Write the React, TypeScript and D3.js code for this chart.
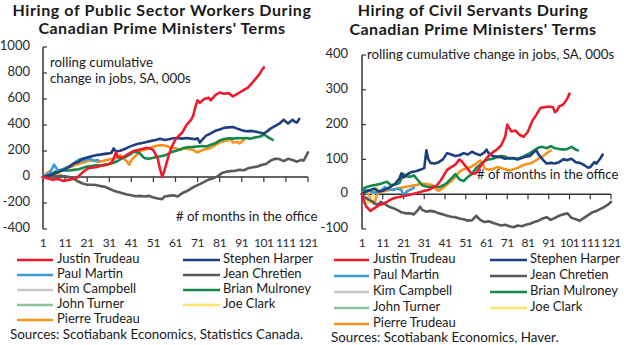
import React from 'react';
import * as d3 from 'd3';

type Pt = [number, number];

const MONTH_TICKS = [1, 11, 21, 31, 41, 51, 61, 71, 81, 91, 101, 111, 121];
const LEFT_Y_TICKS = [-400, -200, 0, 200, 400, 600, 800, 1000];
const RIGHT_Y_TICKS = [-100, 0, 100, 200, 300, 400];

const NAMES = ['Justin Trudeau', 'Stephen Harper', 'Paul Martin', 'Jean Chretien', 'Kim Campbell', 'Brian Mulroney', 'John Turner', 'Joe Clark', 'Pierre Trudeau'];
const COLORS = ['#ec1c2c', '#1e3f7f', '#3c9ad6', '#595959', '#c8c8c8', '#14874a', '#8cc59b', '#fde36b', '#f7931d'];

// ---- Public sector workers (left) ----
const PUB_JUSTIN: Pt[] = [[1,0],[3,-10],[5,-20],[8,-15],[10,-30],[13,-20],[16,-10],[18,20],[20,50],[22,70],[25,75],[27,85],[30,95],[32,110],[33,140],[34,190],[35,150],[37,150],[39,170],[42,200],[45,212],[48,225],[50,218],[51,205],[53,140],[54,60],[55,0],[56,50],[57,110],[58,170],[59,220],[61,290],[63,325],[64,340],[66,400],[68,440],[69,470],[70,540],[71,590],[72,570],[74,600],[76,610],[77,590],[79,630],[81,650],[83,640],[85,645],[87,620],[89,640],[90,650],[92,670],[94,690],[96,730],[98,770],[99,790],[100,820],[101,843]];
const PUB_HARPER: Pt[] = [[1,0],[3,10],[5,20],[7,30],[9,45],[11,60],[13,80],[15,105],[17,115],[19,140],[21,150],[23,160],[25,168],[27,172],[29,178],[31,182],[32,186],[33,220],[34,196],[36,202],[38,215],[40,232],[42,245],[44,255],[46,262],[48,270],[50,278],[52,285],[54,295],[56,285],[58,290],[60,298],[62,300],[64,295],[66,300],[68,295],[70,290],[71,298],[72,265],[73,285],[75,320],[77,335],[79,355],[81,365],[83,378],[85,382],[87,385],[89,372],[91,360],[93,352],[95,355],[97,350],[99,342],[101,335],[102,345],[104,372],[106,392],[108,410],[110,440],[111,425],[112,412],[114,440],[115,425],[116,418],[117,447]];
const PUB_MARTIN: Pt[] = [[1,0],[2,10],[4,30],[5,60],[6,95],[7,70],[8,45],[10,60],[12,75],[14,90],[16,120],[18,140],[19,125],[21,140],[23,135],[24,125],[26,130]];
const PUB_CHRETIEN: Pt[] = [[1,0],[3,5],[5,10],[7,5],[9,10],[11,5],[13,0],[15,-15],[17,-35],[19,-50],[21,-60],[23,-60],[25,-62],[27,-70],[29,-75],[31,-90],[33,-105],[35,-115],[37,-125],[39,-135],[41,-140],[43,-148],[45,-145],[47,-150],[49,-145],[51,-158],[53,-165],[55,-170],[56,-150],[58,-145],[60,-140],[62,-150],[64,-125],[66,-110],[68,-90],[70,-70],[72,-55],[74,-38],[76,-20],[78,-10],[80,5],[82,30],[84,40],[86,45],[88,48],[90,55],[92,52],[94,68],[96,75],[98,80],[100,92],[102,100],[104,125],[106,140],[108,138],[110,122],[112,140],[114,130],[116,118],[118,132],[119,125],[121,190]];
const PUB_CAMPBELL: Pt[] = [[1,0],[2,5],[3,15],[4,10],[5,15]];
const PUB_MULRONEY: Pt[] = [[1,0],[3,10],[5,25],[7,45],[9,55],[11,50],[13,50],[15,55],[17,60],[19,70],[21,80],[23,85],[25,90],[27,88],[29,95],[31,100],[33,110],[35,125],[37,145],[39,160],[41,180],[42,195],[44,190],[45,180],[46,160],[47,145],[49,140],[51,148],[53,155],[55,162],[57,172],[59,190],[61,200],[63,212],[65,225],[67,230],[69,232],[71,235],[73,238],[75,235],[77,248],[79,260],[81,280],[83,292],[85,298],[87,295],[89,300],[91,298],[93,300],[95,295],[97,305],[99,310],[101,325],[102,318],[103,305],[104,295],[105,285]];
const PUB_TURNER: Pt[] = [[1,0],[2,10],[3,5]];
const PUB_CLARK: Pt[] = [[1,0],[2,10],[3,20],[4,30],[5,25],[6,35],[7,20],[8,15],[9,25]];
const PUB_PIERRE: Pt[] = [[1,0],[2,20],[4,45],[5,30],[6,5],[7,10],[8,40],[10,60],[12,70],[14,80],[16,95],[18,105],[20,115],[22,130],[24,125],[26,118],[28,122],[30,130],[32,138],[34,148],[36,168],[37,150],[39,120],[40,95],[41,130],[43,165],[45,200],[47,210],[49,220],[51,232],[53,242],[55,245],[57,238],[59,225],[61,220],[63,210],[65,220],[67,215],[69,210],[70,195],[71,190],[73,205],[75,215],[77,225],[79,245],[81,265],[83,275],[85,285],[86,290],[87,265],[89,270],[90,258],[91,272],[92,285]];

// ---- Civil servants (right) ----
const CIV_JUSTIN: Pt[] = [[1,0],[2,-20],[3,-35],[5,-48],[7,-40],[9,-32],[11,-28],[13,-22],[15,-15],[17,-10],[19,-8],[21,-5],[23,-3],[25,0],[27,3],[29,6],[31,10],[33,12],[35,18],[37,25],[39,40],[41,60],[42,70],[44,78],[46,85],[48,100],[49,95],[51,80],[53,65],[54,58],[56,60],[58,80],[60,95],[62,110],[64,120],[66,128],[68,140],[70,165],[71,200],[72,190],[73,180],[75,183],[77,170],[79,165],[81,180],[83,210],[85,228],[87,248],[89,250],[91,252],[93,250],[94,236],[95,240],[96,252],[98,258],[100,275],[101,289]];
const CIV_HARPER: Pt[] = [[1,0],[3,8],[5,12],[7,16],[9,8],[11,10],[13,16],[15,22],[17,30],[19,45],[20,60],[21,48],[23,58],[25,64],[27,66],[29,70],[31,75],[32,126],[33,100],[34,90],[36,88],[38,92],[40,100],[42,118],[44,114],[46,110],[48,112],[50,118],[52,114],[54,122],[56,116],[58,112],[60,120],[61,128],[62,118],[64,110],[66,108],[68,106],[70,102],[72,104],[74,103],[76,100],[78,104],[80,108],[82,110],[84,122],[85,126],[86,115],[88,100],[90,88],[92,90],[94,88],[96,92],[98,100],[100,98],[102,102],[104,92],[106,90],[108,84],[110,76],[111,78],[113,92],[114,88],[115,96],[116,104],[117,114]];
const CIV_MARTIN: Pt[] = [[1,0],[2,8],[4,12],[6,6],[8,4],[10,10],[12,20],[14,14],[16,12],[18,16],[20,12],[21,-2],[22,4],[23,10],[24,12],[26,18]];
const CIV_CHRETIEN: Pt[] = [[1,0],[2,-8],[4,-15],[6,-22],[7,-27],[9,-30],[10,-22],[12,-28],[14,-36],[16,-40],[18,-45],[20,-52],[22,-55],[24,-55],[26,-58],[28,-45],[29,-36],[30,-45],[32,-50],[34,-48],[36,-50],[38,-55],[40,-58],[42,-62],[44,-65],[46,-66],[48,-70],[50,-72],[52,-76],[54,-75],[56,-62],[58,-74],[60,-80],[62,-78],[64,-82],[66,-86],[68,-90],[70,-88],[72,-92],[74,-95],[76,-90],[78,-92],[80,-88],[82,-85],[84,-80],[86,-76],[88,-70],[90,-66],[92,-74],[94,-68],[96,-62],[98,-58],[100,-55],[102,-68],[104,-72],[106,-76],[108,-68],[110,-60],[112,-52],[114,-48],[116,-42],[118,-36],[120,-28],[121,-22]];
const CIV_CAMPBELL: Pt[] = [[1,0],[2,-5],[3,-12],[4,-8],[5,-15]];
const CIV_MULRONEY: Pt[] = [[1,0],[2,18],[4,22],[6,25],[8,27],[10,30],[12,34],[13,36],[15,26],[17,28],[19,32],[20,45],[21,58],[22,52],[24,50],[26,54],[28,40],[30,26],[32,22],[34,20],[36,22],[38,20],[40,25],[42,33],[44,45],[46,58],[48,42],[50,38],[52,50],[54,58],[56,75],[58,85],[60,95],[62,100],[64,102],[66,106],[68,110],[70,108],[72,102],[74,104],[76,102],[78,106],[80,112],[82,118],[84,126],[86,134],[88,136],[90,132],[92,138],[94,132],[96,130],[98,128],[100,130],[102,136],[104,128],[105,126]];
const CIV_TURNER: Pt[] = [[1,0],[2,8],[3,4]];
const CIV_CLARK: Pt[] = [[1,0],[2,-5],[3,-15],[4,-25],[5,-22],[6,-10],[7,10],[8,22],[9,12]];
const CIV_PIERRE: Pt[] = [[1,0],[2,14],[3,10],[4,0],[5,-10],[6,-20],[7,-27],[8,-5],[9,5],[11,8],[13,11],[15,13],[17,15],[19,18],[21,20],[23,22],[25,24],[27,26],[29,30],[31,30],[33,28],[35,26],[36,22],[37,12],[38,10],[40,18],[42,28],[44,38],[46,50],[48,65],[50,72],[52,75],[54,80],[56,88],[58,97],[59,90],[60,75],[62,70],[64,72],[66,78],[68,75],[70,72],[72,68],[74,72],[76,75],[78,82],[80,86],[82,88],[84,94],[86,102],[88,108],[90,118],[91,122],[92,125]];

const PUB_SERIES = [PUB_JUSTIN, PUB_HARPER, PUB_MARTIN, PUB_CHRETIEN, PUB_CAMPBELL, PUB_MULRONEY, PUB_TURNER, PUB_CLARK, PUB_PIERRE];
const CIV_SERIES = [CIV_JUSTIN, CIV_HARPER, CIV_MARTIN, CIV_CHRETIEN, CIV_CAMPBELL, CIV_MULRONEY, CIV_TURNER, CIV_CLARK, CIV_PIERRE];

const FONT = 'Lato, "Open Sans", sans-serif';
const TXT = '#1a1a1a';

interface PanelCfg {
  series: Pt[][];
  yTicks: number[];
  yDomain: [number, number];
  xRange: [number, number];
  yRange: [number, number];
  yLabelX: number;
  title: string[];
  titleX: number;
  titleY: number[];
  titleSpacing: number[];
  note: { text: string; x: number; y: number }[];
  monthsNote: { x: number; y: number };
  legend: { x1: number; x2: number; tx: number; x1b: number; x2b: number; txb: number; rows: number[] };
  source: { text: string; x: number; y: number };
}

function Panel({ cfg }: { cfg: PanelCfg }) {
  const x = d3.scaleLinear().domain([1, 121]).range(cfg.xRange);
  const y = d3.scaleLinear().domain(cfg.yDomain).range(cfg.yRange);
  const line = d3.line<Pt>().x(d => x(d[0])).y(d => y(d[1]));
  const y0 = y(0);
  const order = [8, 7, 6, 5, 4, 3, 2, 1, 0];
  return (
    <g fontFamily={FONT} fill={TXT}>
      {cfg.title.map((t, i) => (
        <text key={t} x={cfg.titleX} y={cfg.titleY[i]} textAnchor="middle" fontSize={16} fontWeight={700} letterSpacing={cfg.titleSpacing[i]}>{t}</text>
      ))}
      {/* y axis */}
      <line x1={x(1)} x2={x(1)} y1={y(cfg.yDomain[1])} y2={y(cfg.yDomain[0])} stroke="#333" strokeWidth={1.5} />
      {cfg.yTicks.map(t => (
        <g key={t}>
          <line x1={x(1)} x2={x(1) + 4} y1={y(t)} y2={y(t)} stroke="#333" strokeWidth={1.2} />
          <text x={cfg.yLabelX} y={y(t)} textAnchor="end" dominantBaseline="middle" fontSize={13} fill="#2a2a2a">{t}</text>
        </g>
      ))}
      {/* x axis at zero */}
      <line x1={x(1)} x2={x(121)} y1={y0} y2={y0} stroke="#333" strokeWidth={1.5} />
      {MONTH_TICKS.map(m => (
        <g key={m}>
          <line x1={x(m)} x2={x(m)} y1={y0} y2={y0 + 5} stroke="#333" strokeWidth={1.2} />
          <text x={x(m)} y={244} textAnchor="middle" dominantBaseline="middle" fontSize={12} letterSpacing={-0.4} fill="#2a2a2a">{m}</text>
        </g>
      ))}
      {order.map(i => (
        <path key={i} d={line(cfg.series[i]) || ''} fill="none" stroke={COLORS[i]} strokeWidth={2.6} strokeLinejoin="round" strokeLinecap="round" />
      ))}
      {cfg.note.map(n => (
        <text key={n.text} x={n.x} y={n.y} dominantBaseline="middle" fontSize={13.3}>{n.text}</text>
      ))}
      <text x={cfg.monthsNote.x} y={cfg.monthsNote.y} dominantBaseline="middle" fontSize={13.2}>{'# of months in the office'}</text>
      {NAMES.map((n, i) => {
        const col = i % 2;
        const row = Math.floor(i / 2);
        const ly = cfg.legend.rows[row];
        const lx1 = col ? cfg.legend.x1b : cfg.legend.x1;
        const lx2 = col ? cfg.legend.x2b : cfg.legend.x2;
        const tx = col ? cfg.legend.txb : cfg.legend.tx;
        return (
          <g key={n}>
            <line x1={lx1} x2={lx2} y1={ly} y2={ly} stroke={COLORS[i]} strokeWidth={2.6} />
            <text x={tx} y={ly} dominantBaseline="middle" fontSize={13}>{n}</text>
          </g>
        );
      })}
      <text x={cfg.source.x} y={cfg.source.y} dominantBaseline="middle" fontSize={13.4}>{cfg.source.text}</text>
    </g>
  );
}

const LEFT: PanelCfg = {
  series: PUB_SERIES,
  yTicks: LEFT_Y_TICKS,
  yDomain: [-400, 1000],
  xRange: [43, 308],
  yRange: [229, 47],
  yLabelX: 30,
  title: ['Hiring of Public Sector Workers During', "Canadian Prime Ministers' Terms"],
  titleX: 162,
  titleY: [15.5, 34],
  titleSpacing: [0.6, 0.5],
  note: [{ text: 'rolling cumulative', x: 50, y: 64 }, { text: 'change in jobs, SA, 000s', x: 50, y: 80 }],
  monthsNote: { x: 176, y: 218 },
  legend: { x1: 17, x2: 53, tx: 57, x1b: 183, x2b: 220, txb: 223, rows: [260, 275, 290, 305, 320] },
  source: { text: 'Sources: Scotiabank Economics, Statistics Canada.', x: 10, y: 336 },
};

const RIGHT: PanelCfg = {
  series: CIV_SERIES,
  yTicks: RIGHT_Y_TICKS,
  yDomain: [-100, 400],
  xRange: [362, 611],
  yRange: [229, 55],
  yLabelX: 348,
  title: ['Hiring of Civil Servants During', "Canadian Prime Ministers' Terms"],
  titleX: 473,
  titleY: [16, 34.5],
  titleSpacing: [0.5, 0.5],
  note: [{ text: 'rolling cumulative change in jobs, SA, 000s', x: 367, y: 56 }],
  monthsNote: { x: 477, y: 176 },
  legend: { x1: 334, x2: 369, tx: 373, x1b: 490, x2b: 527, txb: 530, rows: [260, 276, 292, 308, 324] },
  source: { text: 'Sources: Scotiabank Economics, Haver.', x: 331, y: 339 },
};

export default function App() {
  return (
    <svg width={624} height={345} viewBox="0 0 624 345" style={{ position: 'absolute', left: 0, top: 0, background: '#fff' }}>
      <rect width={624} height={345} fill="#fff" />
      <Panel cfg={LEFT} />
      <Panel cfg={RIGHT} />
    </svg>
  );
}
